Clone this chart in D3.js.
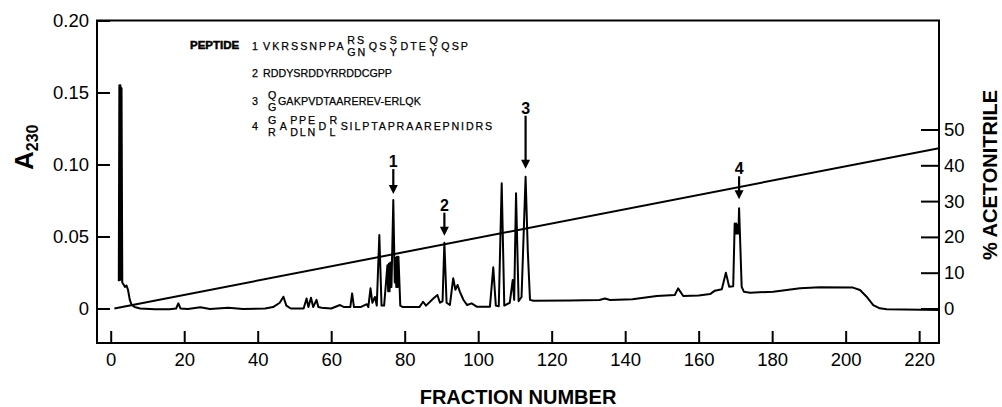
<!DOCTYPE html>
<html>
<head>
<meta charset="utf-8">
<title>Peptide fractions - A230</title>
<script src="https://d3js.org/d3.v7.min.js"></script>
<style>
  body { margin: 0; background: #fff; }
  svg { font-family: "Liberation Sans", Arial, Helvetica, sans-serif; }
</style>
</head>
<body>
<script>
// absorbance trace
const fractions = [2.2, 2.35, 2.55, 2.65, 2.85, 2.95, 3.15, 3.4, 3.9, 4.3, 4.7, 5.2, 5.7, 6.5, 8, 12, 16, 17.8, 18.4, 19, 21, 24.4, 27, 32, 36, 42,
  44.2, 46, 47, 47.8, 49, 52.5, 53.3, 53.8, 54.5, 55.1, 56, 56.5, 57.4, 60, 62.4, 63.5, 65.2, 65.7, 66.2, 68, 69.7, 70.1,
  70.7, 71.2, 71.9, 72.4, 73.1, 73.7, 74.4, 75.3, 75.5, 75.7, 75.9, 76.1, 76.4, 76.9, 77.3, 77.5, 77.7, 77.9, 78.1, 78.3, 78.8, 79.5, 84, 85,
  85.8, 87.8, 88.9, 89.6, 90.3, 90.8, 91.4, 92.3, 93.2, 93.8, 94.4, 95, 96, 97, 98.2, 99.6, 103.2, 104.1, 104.8, 105.6,
  106.4, 107.1, 108.6, 109.4, 109.8, 110.3, 111.0, 111.8, 112.9, 113.5, 114.1, 115, 125, 133, 134.5, 135.9, 142, 148.6,
  153.5, 154.4, 155.8, 160, 163.1, 164.4, 166.3, 167.4, 168.3, 169.4, 169.8, 170.0, 170.2, 170.4, 170.6, 170.8, 171.0, 171.7, 172.3,
  174, 180.3, 187.6, 193, 202, 203.9, 205.7, 207.5, 209.3, 211.2, 225.4];
const a230 = [0.019, 0.155, 0.020, 0.155, 0.020, 0.153, 0.018, 0.017, 0.015, 0.016, 0.013, 0.006, 0.0025, 0.001, 0.0, -0.0005, -0.0005, 0.0, 0.0036, 0.0, -0.0004, 0.0008, -0.0003, 0.0005, -0.0003, 0.0,
  0.001, 0.004, 0.0082, 0.002, 0.0, 0.0, 0.007, 0.001, 0.0075, 0.001, 0.006, 0.001, 0.0005, 0.0, 0.0024, 0.001, 0.001, 0.0105, 0.001, 0.001, 0.003, 0.001,
  0.014, 0.004, 0.008, 0.002, 0.051, 0.002, 0.002, 0.030, 0.012, 0.031, 0.012, 0.032, 0.015, 0.0753, 0.018, 0.035, 0.015, 0.036, 0.015, 0.036, 0.002, 0.001, 0.001, 0.0047,
  0.002, 0.007, 0.0094, 0.004, 0.005, 0.0457, 0.004, 0.0024, 0.021, 0.013, 0.0163, 0.0117, 0.0059, 0.0024, 0.0036, 0.0013, 0.0013, 0.0286, 0.002, 0.0015,
  0.087, 0.002, 0.004, 0.0198, 0.006, 0.080, 0.005, 0.008, 0.0915, 0.040, 0.006, 0.0054, 0.0055, 0.0059, 0.007, 0.0059, 0.0065, 0.0087,
  0.0094, 0.014, 0.0087, 0.009, 0.010, 0.0124, 0.0133, 0.0249, 0.0151, 0.0155, 0.059, 0.052, 0.059, 0.052, 0.058, 0.052, 0.0696, 0.015, 0.0117,
  0.011, 0.0117, 0.014, 0.0148, 0.0145, 0.0128, 0.0082, 0.0024, 0.0001, -0.0006, -0.001];

// acetonitrile gradient (straight ramp)
const gradFractions = [1, 225.4];
const gradPercent = [0, 44.8];

const xTicks = [0, 20, 40, 60, 80, 100, 120, 140, 160, 180, 200, 220];
const yTicks = [0, 0.05, 0.10, 0.15, 0.20];
const yTickLabels = ["0", "0.05", "0.10", "0.15", "0.20"];
const acnTicks = [0, 10, 20, 30, 40, 50];

// numbered peaks
const peakLabels = ["1", "2", "3", "4"];
const peakFractions = [76.9, 90.8, 112.9, 171.0];
const peakValues = [0.0753, 0.0457, 0.0915, 0.0696];

// peptide sequences; [upper, lower] = alternative residues at a position
const peptideIds = ["1", "2", "3", "4"];
const peptideSeqs = [
  ["VKRSSNPPA", ["RS", "GN"], "QS", ["S", "Y"], "DTE", ["Q", "Y"], "QSP"],
  ["RDDYSRDDYRRDDCGPP"],
  [["Q", "G"], "GAKPVDTAAREREV-ERLQK"],
  [["G", "R"], "A", ["PPE", "DLN"], "D", ["R", "L"], "SILPTAPRAAREPNIDRS"]
];

const width = 1002, height = 407;
const plotL = 97, plotR = 939, plotT = 20.5, plotB = 343;

const svg = d3.select("body").append("svg")
  .attr("width", width)
  .attr("height", height);

const x = d3.scaleLinear().domain([-3.73, 225.4]).range([plotL, plotR]);
const y = d3.scaleLinear().domain([0, 0.20]).range([308.5, plotT]);
const yR = d3.scaleLinear().domain([0, 50]).range([308.5, 129.5]);

svg.append("clipPath").attr("id", "plot")
  .append("rect").attr("x", plotL).attr("y", plotT)
  .attr("width", plotR - plotL).attr("height", plotB - plotT);

// axes, ticks pointing into the frame
const axL = svg.append("g").attr("transform", `translate(${plotL},0)`)
  .call(d3.axisLeft(y).tickValues(yTicks).tickFormat((d, i) => yTickLabels[i])
    .tickSizeInner(-13).tickSizeOuter(0).tickPadding(8));
const axB = svg.append("g").attr("transform", `translate(0,${plotB})`)
  .call(d3.axisBottom(x).tickValues(xTicks).tickFormat(d3.format("d"))
    .tickSizeInner(-12).tickSizeOuter(0).tickPadding(10));
const axR = svg.append("g").attr("transform", `translate(${plotR},0)`)
  .call(d3.axisRight(yR).tickValues(acnTicks).tickFormat(d3.format("d"))
    .tickSizeInner(-18).tickSizeOuter(0).tickPadding(5));

[axL, axB, axR].forEach(g => {
  g.select(".domain").remove();
  g.selectAll(".tick line").attr("stroke", "#000").attr("stroke-width", 2);
  g.selectAll(".tick text").attr("fill", "#000").attr("font-size", 18.5)
    .attr("font-family", "'Liberation Sans', Arial, sans-serif");
});

// frame
svg.append("rect")
  .attr("x", plotL).attr("y", plotT)
  .attr("width", plotR - plotL).attr("height", plotB - plotT)
  .attr("fill", "none").attr("stroke", "#000").attr("stroke-width", 2);

// gradient line
const grad = gradFractions.map((f, i) => [f, gradPercent[i]]);
svg.append("path")
  .attr("clip-path", "url(#plot)")
  .attr("d", d3.line().x(d => x(d[0])).y(d => yR(d[1]))(grad))
  .attr("fill", "none").attr("stroke", "#000").attr("stroke-width", 2);

// absorbance trace
const trace = fractions.map((f, i) => [f, a230[i]]);
svg.append("path")
  .attr("clip-path", "url(#plot)")
  .attr("d", d3.line().x(d => x(d[0])).y(d => y(d[1]))(trace))
  .attr("fill", "none").attr("stroke", "#000").attr("stroke-width", 2)
  .attr("stroke-linejoin", "round");

// peak arrows (peak 3 has a long shaft)
const arrowLen = [27, 25, 55, 25];
const arrowGap = [6, 7, 8, 9];
peakLabels.forEach((lab, i) => {
  const px = x(peakFractions[i]);
  const tip = y(peakValues[i]) - arrowGap[i];
  svg.append("line")
    .attr("x1", px).attr("x2", px)
    .attr("y1", tip - arrowLen[i] + 2).attr("y2", tip - 7)
    .attr("stroke", "#000").attr("stroke-width", 2.2);
  svg.append("path")
    .attr("d", `M${px - 4.5},${tip - 9}L${px + 4.5},${tip - 9}L${px},${tip}Z`)
    .attr("fill", "#000");
  svg.append("text")
    .attr("x", px).attr("y", tip - arrowLen[i])
    .attr("text-anchor", "middle")
    .attr("font-size", 16).attr("font-weight", "bold")
    .text(lab);
});

// axis titles
const yTitle = svg.append("text")
  .attr("transform", "translate(33,170) rotate(-90)")
  .attr("font-weight", "bold").attr("font-size", 26);
yTitle.append("tspan").text("A");
yTitle.append("tspan").attr("font-size", 16).attr("dy", 5).text("230");

svg.append("text")
  .attr("transform", "translate(997,175) rotate(-90)")
  .attr("text-anchor", "middle")
  .attr("font-weight", "bold").attr("font-size", 20)
  .text("% ACETONITRILE");

svg.append("text")
  .attr("x", (plotL + plotR) / 2).attr("y", 404)
  .attr("text-anchor", "middle")
  .attr("font-weight", "bold").attr("font-size", 20)
  .text("FRACTION NUMBER");

// peptide key
const pep = svg.append("g").attr("font-size", 10.7)
  .attr("stroke", "#000").attr("stroke-width", 0.25);
pep.append("text").attr("x", 190).attr("y", 49)
  .attr("font-weight", "bold").attr("font-size", 11.5)
  .attr("stroke-width", 0.5).text("PEPTIDE");
const rowY = [49.5, 77, 104.5, 129.5];
const rowX = [263, 263, 268, 268];
const rowEnd = [470, 392, 421, 494];
const tokGap = 1.5;

peptideSeqs.forEach((seq, i) => {
  pep.append("text").attr("x", 252).attr("y", rowY[i]).text(peptideIds[i]);
  const row = pep.append("g");
  // first pass: natural widths
  const toks = seq.map(tok => {
    const parts = typeof tok === "string" ? [tok] : tok;
    const els = parts.map(p => row.append("text").text(p));
    const w = d3.max(els, e => e.node().getComputedTextLength());
    const n = d3.max(parts, p => p.length);
    return { parts, els, w, n };
  });
  const natural = d3.sum(toks, t => t.w) + tokGap * (toks.length - 1);
  const nChars = d3.sum(toks, t => t.n);
  const ls = Math.max(0, (rowEnd[i] - rowX[i] - natural) / nChars);
  // second pass: place with fitted letter spacing
  let cx = rowX[i];
  toks.forEach(t => {
    t.els.forEach((e, k) => {
      let dy = 0;
      if (t.parts.length > 1) dy = k === 0 ? -5.5 : 6;
      e.attr("x", cx).attr("y", rowY[i] + dy).attr("letter-spacing", ls);
    });
    cx += t.w + t.n * ls + tokGap;
  });
});
</script>
</body>
</html>
